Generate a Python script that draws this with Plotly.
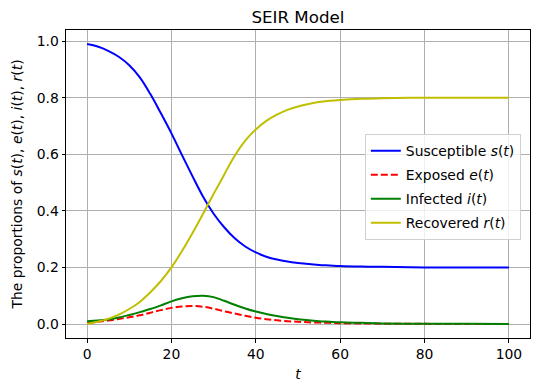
import plotly.graph_objects as go

t = [0, 2.5, 5, 7.5, 10, 12.5, 15, 17.5, 20, 22.5, 25, 27.5, 30, 32.5, 35, 37.5, 40,
     42.5, 45, 47.5, 50, 52.5, 55, 57.5, 60, 65, 70, 80, 90, 100]
s_vals = [0.99, 0.981, 0.966, 0.945, 0.915, 0.872, 0.813, 0.745, 0.674, 0.597, 0.522, 0.45, 0.39,
          0.342, 0.303, 0.274, 0.253, 0.238, 0.228, 0.221, 0.216, 0.212, 0.209, 0.207, 0.205,
          0.203, 0.202, 0.2, 0.2, 0.2]
e_vals = [0.003, 0.008, 0.012, 0.018, 0.024, 0.031, 0.04, 0.049, 0.057, 0.062, 0.064, 0.061,
          0.054, 0.045, 0.037, 0.029, 0.022, 0.017, 0.013, 0.01, 0.008, 0.006, 0.005, 0.004,
          0.003, 0.002, 0.001, 0.0005, 0.0002, 0.0001]
i_vals = [0.01, 0.012, 0.016, 0.023, 0.032, 0.042, 0.053, 0.066, 0.08, 0.091, 0.098, 0.1,
          0.095, 0.082, 0.068, 0.055, 0.044, 0.035, 0.028, 0.022, 0.017, 0.013, 0.01, 0.008,
          0.006, 0.004, 0.002, 0.001, 0.0005, 0.0002]
r_vals = [0.0, 0.008, 0.018, 0.033, 0.053, 0.078, 0.112, 0.152, 0.2, 0.258, 0.322, 0.39, 0.46,
          0.528, 0.595, 0.648, 0.688, 0.718, 0.74, 0.757, 0.769, 0.778, 0.785, 0.789, 0.792,
          0.796, 0.798, 0.8, 0.8, 0.8]

x_ticks = [0, 20, 40, 60, 80, 100]
y_ticks = [0.0, 0.2, 0.4, 0.6, 0.8, 1.0]

series = [
    ("Susceptible <i>s</i>(<i>t</i>)", s_vals, "#0000ff", "solid"),
    ("Exposed <i>e</i>(<i>t</i>)", e_vals, "#ff0000", "7px,3px"),
    ("Infected <i>i</i>(<i>t</i>)", i_vals, "#008000", "solid"),
    ("Recovered <i>r</i>(<i>t</i>)", r_vals, "#bfbf00", "solid"),
]

fig = go.Figure()
for k, (name, vals, color, dash) in enumerate(series):
    fig.add_trace(go.Scatter(
        x=t, y=vals, mode="lines", name=name, legendgroup=f"g{k}",
        line=dict(color=color, width=2, dash=dash, shape="spline", smoothing=1.0),
    ))

font = "DejaVu Sans, Arial, sans-serif"
fs = 13.9
axis_common = dict(
    showline=True, linecolor="black", linewidth=1, mirror=True,
    showgrid=True, gridcolor="#b0b0b0", gridwidth=0.8,
    ticks="outside", ticklen=3.5, tickwidth=0.8, tickcolor="black",
    zeroline=False, automargin=False,
    tickfont=dict(family=font, size=fs, color="black"),
)

# page body has an 8px margin, so the figure is sized to fit the 540x391 window
fig.update_layout(
    width=532, height=383,
    margin=dict(l=58, r=10, t=22, b=53),
    paper_bgcolor="white", plot_bgcolor="white",
    font=dict(family=font, color="black", size=fs),
    title=dict(text="SEIR Model", x=0.545, xanchor="center", y=0.9765, yanchor="middle",
               font=dict(family=font, size=16.7, color="black")),
    xaxis=dict(range=[-5, 105], tickvals=x_ticks, ticktext=[str(v) for v in x_ticks],
               title=dict(text="<i>t</i>", font=dict(family=font, size=fs), standoff=8),
               **axis_common),
    yaxis=dict(range=[-0.0495, 1.0395], tickvals=y_ticks, ticktext=[f"{v:.1f}" for v in y_ticks],
               title=dict(text="The proportions of <i>s</i>(<i>t</i>), <i>e</i>(<i>t</i>), <i>i</i>(<i>t</i>), <i>r</i>(<i>t</i>)",
                          font=dict(family=font, size=fs), standoff=10),
               **axis_common),
    legend=dict(x=0.644, y=0.662, xanchor="left", yanchor="top",
                bgcolor="rgba(255,255,255,0.8)", bordercolor="#d0d0d0", borderwidth=1,
                font=dict(family=font, size=fs, color="black"),
                tracegroupgap=3, itemwidth=30),
    showlegend=True,
)

fig.write_html("out.html")
